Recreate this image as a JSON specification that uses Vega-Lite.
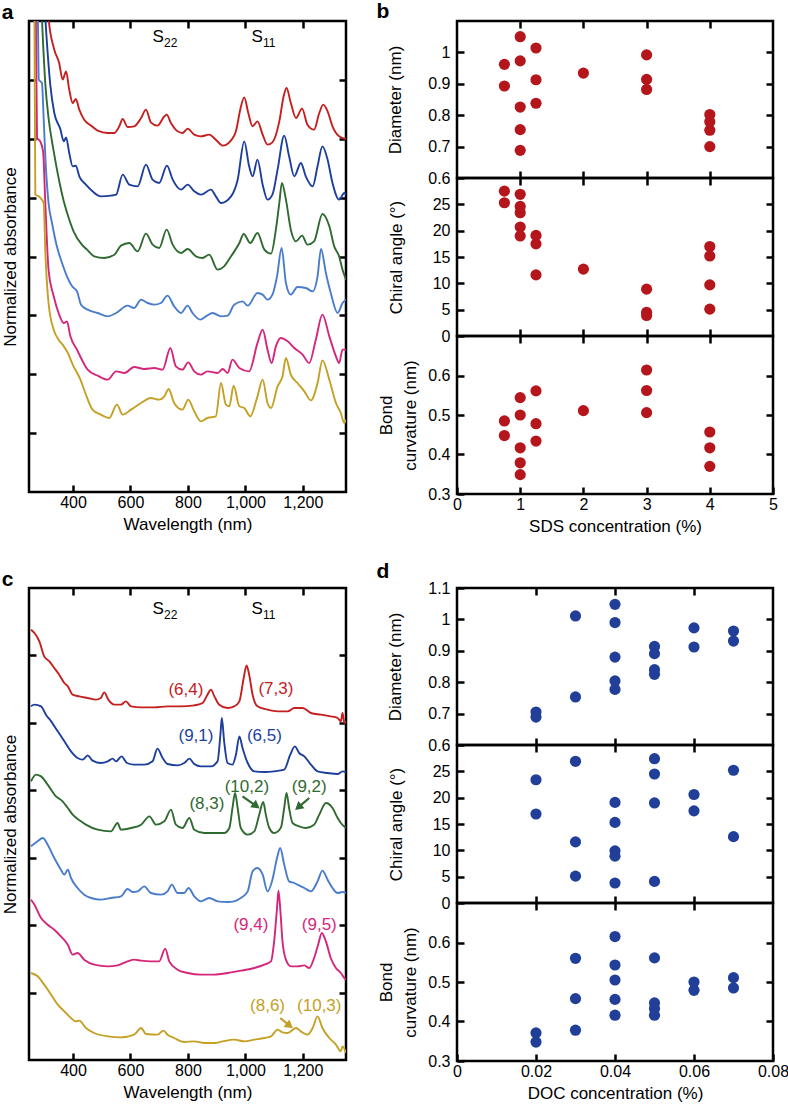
{
"$schema": "https://vega.github.io/schema/vega-lite/v6.json",
"padding": {"left": 0, "top": 0, "right": 2, "bottom": 1},
"background": "white",
"config": {
  "font": "Liberation Sans",
  "view": {"stroke": "#000", "strokeWidth": 2.5},
  "axis": {"domain": false, "grid": false, "tickSize": -7, "tickWidth": 2.5, "tickColor": "#000", "labelFontSize": 16, "labelColor": "#000", "titleFontSize": 17, "titleFontWeight": "normal", "titleColor": "#000", "labelFlush": false, "labelOverlap": false, "labelFont": "Liberation Sans", "titleFont": "Liberation Sans", "format": "~g", "titleLineHeight": 24},
  "axisX": {"labelPadding": 9, "titlePadding": 6},
  "axisY": {"labelPadding": 14, "titlePadding": 23},
  "title": {"fontSize": 21, "fontWeight": "bold", "anchor": "start", "font": "Liberation Sans", "color": "#000", "baseline": "alphabetic", "offset": -3}
},
"datasets": {
"specA": [
{"s":"1","nm":300,"v":17.67},{"s":"1","nm":315,"v":14.22},{"s":"1","nm":335,"v":13.27},{"s":"1","nm":352,"v":12.87},{"s":"1","nm":364,"v":12.37},{"s":"1","nm":376,"v":12.62},{"s":"1","nm":387,"v":12.07},{"s":"1","nm":399,"v":11.67},{"s":"1","nm":410,"v":11.79},{"s":"1","nm":422,"v":11.47},{"s":"1","nm":439,"v":11.17},{"s":"1","nm":463,"v":10.99},{"s":"1","nm":486,"v":10.84},{"s":"1","nm":521,"v":10.77},{"s":"1","nm":544,"v":10.77},{"s":"1","nm":561,"v":10.97},{"s":"1","nm":573,"v":11.19},{"s":"1","nm":590,"v":10.95},{"s":"1","nm":613,"v":10.97},{"s":"1","nm":637,"v":11.22},{"s":"1","nm":654,"v":11.47},{"s":"1","nm":671,"v":11.09},{"s":"1","nm":694,"v":10.99},{"s":"1","nm":718,"v":11.27},{"s":"1","nm":726,"v":11.32},{"s":"1","nm":741,"v":11.07},{"s":"1","nm":764,"v":10.82},{"s":"1","nm":781,"v":10.77},{"s":"1","nm":799,"v":10.90},{"s":"1","nm":822,"v":10.72},{"s":"1","nm":845,"v":10.67},{"s":"1","nm":874,"v":10.72},{"s":"1","nm":897,"v":10.57},{"s":"1","nm":921,"v":10.39},{"s":"1","nm":950,"v":10.55},{"s":"1","nm":967,"v":10.82},{"s":"1","nm":982,"v":11.47},{"s":"1","nm":996,"v":11.84},{"s":"1","nm":1010,"v":11.37},{"s":"1","nm":1025,"v":10.97},{"s":"1","nm":1042,"v":11.12},{"s":"1","nm":1060,"v":10.72},{"s":"1","nm":1077,"v":10.42},{"s":"1","nm":1094,"v":10.49},{"s":"1","nm":1118,"v":11.12},{"s":"1","nm":1133,"v":11.87},{"s":"1","nm":1143,"v":12.12},{"s":"1","nm":1158,"v":11.67},{"s":"1","nm":1176,"v":11.22},{"s":"1","nm":1197,"v":11.50},{"s":"1","nm":1216,"v":11.02},{"s":"1","nm":1239,"v":10.87},{"s":"1","nm":1257,"v":11.37},{"s":"1","nm":1271,"v":11.62},{"s":"1","nm":1286,"v":11.42},{"s":"1","nm":1303,"v":10.97},{"s":"1","nm":1326,"v":10.67},{"s":"1","nm":1350,"v":10.59},
{"s":"2","nm":289,"v":17.67},{"s":"2","nm":304,"v":14.22},{"s":"2","nm":312,"v":13.17},{"s":"2","nm":321,"v":12.22},{"s":"2","nm":335,"v":11.37},{"s":"2","nm":356,"v":10.89},{"s":"2","nm":368,"v":10.52},{"s":"2","nm":376,"v":10.64},{"s":"2","nm":387,"v":10.17},{"s":"2","nm":399,"v":9.77},{"s":"2","nm":410,"v":9.79},{"s":"2","nm":422,"v":9.47},{"s":"2","nm":445,"v":9.22},{"s":"2","nm":468,"v":9.02},{"s":"2","nm":497,"v":8.87},{"s":"2","nm":532,"v":8.89},{"s":"2","nm":550,"v":8.92},{"s":"2","nm":573,"v":9.52},{"s":"2","nm":596,"v":9.22},{"s":"2","nm":625,"v":9.17},{"s":"2","nm":654,"v":9.82},{"s":"2","nm":677,"v":9.37},{"s":"2","nm":700,"v":9.27},{"s":"2","nm":727,"v":9.79},{"s":"2","nm":747,"v":9.37},{"s":"2","nm":776,"v":9.07},{"s":"2","nm":799,"v":9.22},{"s":"2","nm":822,"v":9.02},{"s":"2","nm":845,"v":8.92},{"s":"2","nm":880,"v":9.07},{"s":"2","nm":897,"v":8.87},{"s":"2","nm":915,"v":8.67},{"s":"2","nm":950,"v":8.87},{"s":"2","nm":973,"v":9.37},{"s":"2","nm":996,"v":10.52},{"s":"2","nm":1013,"v":9.77},{"s":"2","nm":1025,"v":9.47},{"s":"2","nm":1042,"v":9.97},{"s":"2","nm":1060,"v":9.22},{"s":"2","nm":1077,"v":8.77},{"s":"2","nm":1094,"v":8.92},{"s":"2","nm":1112,"v":9.67},{"s":"2","nm":1135,"v":10.69},{"s":"2","nm":1152,"v":10.07},{"s":"2","nm":1170,"v":9.47},{"s":"2","nm":1193,"v":9.87},{"s":"2","nm":1210,"v":9.47},{"s":"2","nm":1234,"v":9.17},{"s":"2","nm":1251,"v":9.77},{"s":"2","nm":1268,"v":10.37},{"s":"2","nm":1286,"v":9.97},{"s":"2","nm":1303,"v":9.27},{"s":"2","nm":1326,"v":8.77},{"s":"2","nm":1344,"v":8.97},{"s":"2","nm":1350,"v":8.92},
{"s":"3","nm":277,"v":17.67},{"s":"3","nm":292,"v":14.22},{"s":"3","nm":304,"v":12.22},{"s":"3","nm":315,"v":11.22},{"s":"3","nm":333,"v":10.22},{"s":"3","nm":350,"v":9.42},{"s":"3","nm":368,"v":8.72},{"s":"3","nm":391,"v":8.07},{"s":"3","nm":402,"v":7.82},{"s":"3","nm":431,"v":7.42},{"s":"3","nm":449,"v":7.27},{"s":"3","nm":474,"v":7.07},{"s":"3","nm":509,"v":7.02},{"s":"3","nm":544,"v":7.12},{"s":"3","nm":567,"v":7.39},{"s":"3","nm":596,"v":7.47},{"s":"3","nm":625,"v":7.22},{"s":"3","nm":654,"v":7.75},{"s":"3","nm":677,"v":7.42},{"s":"3","nm":700,"v":7.32},{"s":"3","nm":726,"v":7.87},{"s":"3","nm":747,"v":7.42},{"s":"3","nm":776,"v":7.17},{"s":"3","nm":799,"v":7.29},{"s":"3","nm":828,"v":7.07},{"s":"3","nm":851,"v":7.02},{"s":"3","nm":874,"v":7.12},{"s":"3","nm":903,"v":6.67},{"s":"3","nm":926,"v":6.77},{"s":"3","nm":950,"v":7.07},{"s":"3","nm":979,"v":7.47},{"s":"3","nm":994,"v":7.74},{"s":"3","nm":1017,"v":7.47},{"s":"3","nm":1042,"v":7.77},{"s":"3","nm":1066,"v":7.27},{"s":"3","nm":1089,"v":7.15},{"s":"3","nm":1106,"v":7.87},{"s":"3","nm":1118,"v":8.67},{"s":"3","nm":1127,"v":9.27},{"s":"3","nm":1141,"v":8.77},{"s":"3","nm":1158,"v":7.87},{"s":"3","nm":1176,"v":7.52},{"s":"3","nm":1197,"v":7.69},{"s":"3","nm":1216,"v":7.42},{"s":"3","nm":1239,"v":7.52},{"s":"3","nm":1268,"v":8.34},{"s":"3","nm":1292,"v":7.97},{"s":"3","nm":1309,"v":7.37},{"s":"3","nm":1326,"v":7.07},{"s":"3","nm":1338,"v":6.67},{"s":"3","nm":1350,"v":6.37},
{"s":"4","nm":266,"v":17.67},{"s":"4","nm":278,"v":14.22},{"s":"4","nm":281,"v":12.37},{"s":"4","nm":292,"v":12.27},{"s":"4","nm":298,"v":11.22},{"s":"4","nm":304,"v":10.02},{"s":"4","nm":315,"v":8.67},{"s":"4","nm":327,"v":8.07},{"s":"4","nm":344,"v":7.37},{"s":"4","nm":362,"v":6.87},{"s":"4","nm":379,"v":6.47},{"s":"4","nm":397,"v":6.17},{"s":"4","nm":414,"v":6.02},{"s":"4","nm":428,"v":5.62},{"s":"4","nm":451,"v":5.47},{"s":"4","nm":486,"v":5.37},{"s":"4","nm":521,"v":5.27},{"s":"4","nm":550,"v":5.37},{"s":"4","nm":590,"v":5.59},{"s":"4","nm":613,"v":5.52},{"s":"4","nm":637,"v":5.77},{"s":"4","nm":660,"v":5.67},{"s":"4","nm":683,"v":5.62},{"s":"4","nm":706,"v":5.67},{"s":"4","nm":729,"v":5.89},{"s":"4","nm":752,"v":5.57},{"s":"4","nm":776,"v":5.37},{"s":"4","nm":799,"v":5.59},{"s":"4","nm":816,"v":5.37},{"s":"4","nm":843,"v":5.17},{"s":"4","nm":863,"v":5.27},{"s":"4","nm":886,"v":5.37},{"s":"4","nm":915,"v":5.27},{"s":"4","nm":938,"v":5.29},{"s":"4","nm":961,"v":5.62},{"s":"4","nm":990,"v":5.72},{"s":"4","nm":1008,"v":5.59},{"s":"4","nm":1042,"v":5.97},{"s":"4","nm":1060,"v":5.92},{"s":"4","nm":1077,"v":5.77},{"s":"4","nm":1094,"v":5.92},{"s":"4","nm":1110,"v":6.47},{"s":"4","nm":1126,"v":7.32},{"s":"4","nm":1141,"v":6.27},{"s":"4","nm":1158,"v":5.92},{"s":"4","nm":1181,"v":6.15},{"s":"4","nm":1210,"v":6.12},{"s":"4","nm":1234,"v":6.02},{"s":"4","nm":1251,"v":6.47},{"s":"4","nm":1263,"v":7.29},{"s":"4","nm":1280,"v":6.57},{"s":"4","nm":1297,"v":5.97},{"s":"4","nm":1321,"v":5.37},{"s":"4","nm":1338,"v":5.67},{"s":"4","nm":1350,"v":5.77},
{"s":"5","nm":260,"v":17.67},{"s":"5","nm":271,"v":14.22},{"s":"5","nm":275,"v":10.62},{"s":"5","nm":286,"v":10.52},{"s":"5","nm":296,"v":10.22},{"s":"5","nm":304,"v":8.62},{"s":"5","nm":315,"v":6.67},{"s":"5","nm":333,"v":5.87},{"s":"5","nm":350,"v":5.37},{"s":"5","nm":368,"v":5.07},{"s":"5","nm":379,"v":5.12},{"s":"5","nm":391,"v":4.67},{"s":"5","nm":414,"v":4.27},{"s":"5","nm":437,"v":3.87},{"s":"5","nm":451,"v":3.67},{"s":"5","nm":486,"v":3.49},{"s":"5","nm":521,"v":3.37},{"s":"5","nm":550,"v":3.62},{"s":"5","nm":579,"v":3.57},{"s":"5","nm":613,"v":3.75},{"s":"5","nm":648,"v":3.69},{"s":"5","nm":683,"v":3.72},{"s":"5","nm":712,"v":3.67},{"s":"5","nm":739,"v":4.32},{"s":"5","nm":758,"v":3.77},{"s":"5","nm":781,"v":3.67},{"s":"5","nm":801,"v":3.89},{"s":"5","nm":822,"v":3.62},{"s":"5","nm":845,"v":3.52},{"s":"5","nm":868,"v":3.62},{"s":"5","nm":903,"v":3.57},{"s":"5","nm":921,"v":3.69},{"s":"5","nm":938,"v":3.57},{"s":"5","nm":955,"v":3.97},{"s":"5","nm":979,"v":3.72},{"s":"5","nm":1013,"v":3.62},{"s":"5","nm":1042,"v":4.47},{"s":"5","nm":1060,"v":4.87},{"s":"5","nm":1077,"v":4.27},{"s":"5","nm":1091,"v":3.87},{"s":"5","nm":1106,"v":4.37},{"s":"5","nm":1123,"v":4.62},{"s":"5","nm":1147,"v":4.52},{"s":"5","nm":1170,"v":4.32},{"s":"5","nm":1199,"v":4.12},{"s":"5","nm":1222,"v":3.87},{"s":"5","nm":1245,"v":4.57},{"s":"5","nm":1268,"v":5.32},{"s":"5","nm":1292,"v":4.67},{"s":"5","nm":1315,"v":4.07},{"s":"5","nm":1326,"v":3.87},{"s":"5","nm":1338,"v":4.27},{"s":"5","nm":1350,"v":4.27},
{"s":"6","nm":254,"v":17.67},{"s":"6","nm":266,"v":14.22},{"s":"6","nm":269,"v":8.92},{"s":"6","nm":281,"v":8.87},{"s":"6","nm":292,"v":8.77},{"s":"6","nm":298,"v":8.67},{"s":"6","nm":304,"v":7.17},{"s":"6","nm":315,"v":5.67},{"s":"6","nm":333,"v":4.87},{"s":"6","nm":350,"v":4.57},{"s":"6","nm":368,"v":4.37},{"s":"6","nm":379,"v":4.22},{"s":"6","nm":402,"v":3.77},{"s":"6","nm":426,"v":3.37},{"s":"6","nm":443,"v":2.97},{"s":"6","nm":468,"v":2.47},{"s":"6","nm":497,"v":2.32},{"s":"6","nm":526,"v":2.22},{"s":"6","nm":553,"v":2.62},{"s":"6","nm":573,"v":2.32},{"s":"6","nm":602,"v":2.47},{"s":"6","nm":637,"v":2.67},{"s":"6","nm":671,"v":2.82},{"s":"6","nm":700,"v":2.77},{"s":"6","nm":718,"v":2.87},{"s":"6","nm":733,"v":3.09},{"s":"6","nm":752,"v":2.67},{"s":"6","nm":781,"v":2.47},{"s":"6","nm":801,"v":2.77},{"s":"6","nm":822,"v":2.42},{"s":"6","nm":845,"v":2.12},{"s":"6","nm":868,"v":2.22},{"s":"6","nm":897,"v":2.27},{"s":"6","nm":915,"v":3.27},{"s":"6","nm":932,"v":2.62},{"s":"6","nm":944,"v":2.57},{"s":"6","nm":959,"v":3.19},{"s":"6","nm":979,"v":2.57},{"s":"6","nm":996,"v":2.52},{"s":"6","nm":1017,"v":2.27},{"s":"6","nm":1042,"v":2.87},{"s":"6","nm":1060,"v":3.37},{"s":"6","nm":1077,"v":2.67},{"s":"6","nm":1089,"v":2.52},{"s":"6","nm":1112,"v":3.17},{"s":"6","nm":1129,"v":3.47},{"s":"6","nm":1141,"v":4.02},{"s":"6","nm":1158,"v":3.52},{"s":"6","nm":1181,"v":3.27},{"s":"6","nm":1205,"v":3.02},{"s":"6","nm":1228,"v":2.75},{"s":"6","nm":1251,"v":3.27},{"s":"6","nm":1268,"v":3.95},{"s":"6","nm":1292,"v":3.37},{"s":"6","nm":1315,"v":2.67},{"s":"6","nm":1332,"v":2.37},{"s":"6","nm":1344,"v":2.07},{"s":"6","nm":1350,"v":2.17}
],
"specC": [
{"s":"1","nm":254,"v":12.91},{"s":"1","nm":266,"v":12.81},{"s":"1","nm":283,"v":12.56},{"s":"1","nm":300,"v":12.11},{"s":"1","nm":318,"v":11.96},{"s":"1","nm":335,"v":11.76},{"s":"1","nm":352,"v":11.56},{"s":"1","nm":370,"v":11.31},{"s":"1","nm":382,"v":11.21},{"s":"1","nm":399,"v":10.96},{"s":"1","nm":422,"v":10.91},{"s":"1","nm":451,"v":10.86},{"s":"1","nm":480,"v":10.81},{"s":"1","nm":497,"v":10.86},{"s":"1","nm":509,"v":11.03},{"s":"1","nm":523,"v":10.81},{"s":"1","nm":544,"v":10.66},{"s":"1","nm":567,"v":10.66},{"s":"1","nm":584,"v":10.76},{"s":"1","nm":602,"v":10.61},{"s":"1","nm":637,"v":10.58},{"s":"1","nm":683,"v":10.58},{"s":"1","nm":729,"v":10.61},{"s":"1","nm":776,"v":10.61},{"s":"1","nm":822,"v":10.64},{"s":"1","nm":851,"v":10.71},{"s":"1","nm":868,"v":10.96},{"s":"1","nm":880,"v":11.11},{"s":"1","nm":892,"v":10.91},{"s":"1","nm":909,"v":10.66},{"s":"1","nm":938,"v":10.56},{"s":"1","nm":961,"v":10.61},{"s":"1","nm":979,"v":10.76},{"s":"1","nm":994,"v":11.46},{"s":"1","nm":1004,"v":11.84},{"s":"1","nm":1013,"v":11.56},{"s":"1","nm":1025,"v":10.96},{"s":"1","nm":1042,"v":10.61},{"s":"1","nm":1077,"v":10.51},{"s":"1","nm":1112,"v":10.46},{"s":"1","nm":1147,"v":10.46},{"s":"1","nm":1170,"v":10.56},{"s":"1","nm":1199,"v":10.56},{"s":"1","nm":1228,"v":10.41},{"s":"1","nm":1263,"v":10.36},{"s":"1","nm":1297,"v":10.31},{"s":"1","nm":1321,"v":10.26},{"s":"1","nm":1332,"v":10.16},{"s":"1","nm":1338,"v":10.41},{"s":"1","nm":1344,"v":10.11},{"s":"1","nm":1350,"v":10.16},
{"s":"2","nm":254,"v":10.61},{"s":"2","nm":266,"v":10.66},{"s":"2","nm":289,"v":10.61},{"s":"2","nm":306,"v":10.36},{"s":"2","nm":324,"v":10.16},{"s":"2","nm":347,"v":9.86},{"s":"2","nm":370,"v":9.56},{"s":"2","nm":393,"v":9.26},{"s":"2","nm":416,"v":9.06},{"s":"2","nm":434,"v":9.01},{"s":"2","nm":451,"v":9.14},{"s":"2","nm":468,"v":8.98},{"s":"2","nm":497,"v":8.91},{"s":"2","nm":521,"v":8.96},{"s":"2","nm":538,"v":9.04},{"s":"2","nm":550,"v":8.96},{"s":"2","nm":569,"v":9.11},{"s":"2","nm":588,"v":8.91},{"s":"2","nm":613,"v":8.86},{"s":"2","nm":648,"v":8.86},{"s":"2","nm":677,"v":8.96},{"s":"2","nm":694,"v":9.34},{"s":"2","nm":712,"v":9.06},{"s":"2","nm":729,"v":8.88},{"s":"2","nm":764,"v":8.84},{"s":"2","nm":787,"v":8.91},{"s":"2","nm":805,"v":9.04},{"s":"2","nm":822,"v":8.88},{"s":"2","nm":845,"v":8.81},{"s":"2","nm":880,"v":8.81},{"s":"2","nm":903,"v":8.96},{"s":"2","nm":913,"v":9.76},{"s":"2","nm":918,"v":10.26},{"s":"2","nm":926,"v":9.56},{"s":"2","nm":938,"v":8.91},{"s":"2","nm":955,"v":8.86},{"s":"2","nm":967,"v":9.16},{"s":"2","nm":979,"v":9.71},{"s":"2","nm":990,"v":9.36},{"s":"2","nm":1008,"v":8.91},{"s":"2","nm":1031,"v":8.66},{"s":"2","nm":1066,"v":8.64},{"s":"2","nm":1100,"v":8.66},{"s":"2","nm":1135,"v":8.71},{"s":"2","nm":1156,"v":9.16},{"s":"2","nm":1172,"v":9.41},{"s":"2","nm":1187,"v":9.21},{"s":"2","nm":1205,"v":9.11},{"s":"2","nm":1228,"v":8.86},{"s":"2","nm":1251,"v":8.66},{"s":"2","nm":1286,"v":8.61},{"s":"2","nm":1321,"v":8.58},{"s":"2","nm":1338,"v":8.66},{"s":"2","nm":1350,"v":8.64},
{"s":"3","nm":254,"v":8.36},{"s":"3","nm":271,"v":8.56},{"s":"3","nm":289,"v":8.51},{"s":"3","nm":312,"v":8.26},{"s":"3","nm":341,"v":7.91},{"s":"3","nm":364,"v":7.76},{"s":"3","nm":382,"v":7.56},{"s":"3","nm":399,"v":7.36},{"s":"3","nm":428,"v":7.16},{"s":"3","nm":445,"v":7.06},{"s":"3","nm":486,"v":6.91},{"s":"3","nm":532,"v":6.86},{"s":"3","nm":555,"v":7.11},{"s":"3","nm":567,"v":6.91},{"s":"3","nm":602,"v":6.96},{"s":"3","nm":637,"v":7.06},{"s":"3","nm":666,"v":7.31},{"s":"3","nm":689,"v":7.06},{"s":"3","nm":718,"v":7.16},{"s":"3","nm":741,"v":7.51},{"s":"3","nm":758,"v":7.06},{"s":"3","nm":781,"v":6.96},{"s":"3","nm":805,"v":7.26},{"s":"3","nm":822,"v":6.91},{"s":"3","nm":857,"v":6.81},{"s":"3","nm":892,"v":6.81},{"s":"3","nm":926,"v":6.81},{"s":"3","nm":944,"v":6.96},{"s":"3","nm":955,"v":7.56},{"s":"3","nm":964,"v":8.01},{"s":"3","nm":973,"v":7.56},{"s":"3","nm":984,"v":6.96},{"s":"3","nm":1008,"v":6.76},{"s":"3","nm":1031,"v":6.86},{"s":"3","nm":1048,"v":7.36},{"s":"3","nm":1062,"v":7.74},{"s":"3","nm":1071,"v":7.36},{"s":"3","nm":1083,"v":6.96},{"s":"3","nm":1100,"v":6.81},{"s":"3","nm":1123,"v":6.96},{"s":"3","nm":1135,"v":7.56},{"s":"3","nm":1143,"v":8.01},{"s":"3","nm":1152,"v":7.56},{"s":"3","nm":1164,"v":7.11},{"s":"3","nm":1187,"v":7.01},{"s":"3","nm":1210,"v":6.96},{"s":"3","nm":1239,"v":7.06},{"s":"3","nm":1257,"v":7.36},{"s":"3","nm":1280,"v":7.71},{"s":"3","nm":1303,"v":7.56},{"s":"3","nm":1321,"v":7.26},{"s":"3","nm":1332,"v":7.11},{"s":"3","nm":1350,"v":6.96},
{"s":"4","nm":254,"v":6.41},{"s":"4","nm":277,"v":6.56},{"s":"4","nm":295,"v":6.66},{"s":"4","nm":312,"v":6.46},{"s":"4","nm":335,"v":6.06},{"s":"4","nm":358,"v":5.71},{"s":"4","nm":370,"v":5.56},{"s":"4","nm":382,"v":5.71},{"s":"4","nm":393,"v":5.46},{"s":"4","nm":416,"v":5.16},{"s":"4","nm":439,"v":4.96},{"s":"4","nm":463,"v":4.86},{"s":"4","nm":497,"v":4.81},{"s":"4","nm":532,"v":4.86},{"s":"4","nm":567,"v":4.91},{"s":"4","nm":590,"v":5.13},{"s":"4","nm":608,"v":5.04},{"s":"4","nm":625,"v":5.06},{"s":"4","nm":648,"v":5.21},{"s":"4","nm":671,"v":5.01},{"s":"4","nm":706,"v":4.96},{"s":"4","nm":729,"v":5.06},{"s":"4","nm":744,"v":5.26},{"s":"4","nm":764,"v":5.01},{"s":"4","nm":787,"v":5.01},{"s":"4","nm":802,"v":5.16},{"s":"4","nm":822,"v":4.91},{"s":"4","nm":845,"v":4.76},{"s":"4","nm":874,"v":4.86},{"s":"4","nm":903,"v":4.76},{"s":"4","nm":938,"v":4.74},{"s":"4","nm":961,"v":4.76},{"s":"4","nm":984,"v":4.86},{"s":"4","nm":1008,"v":5.06},{"s":"4","nm":1025,"v":5.66},{"s":"4","nm":1042,"v":5.76},{"s":"4","nm":1060,"v":5.56},{"s":"4","nm":1077,"v":5.06},{"s":"4","nm":1094,"v":5.41},{"s":"4","nm":1110,"v":6.06},{"s":"4","nm":1121,"v":6.36},{"s":"4","nm":1135,"v":5.86},{"s":"4","nm":1152,"v":5.36},{"s":"4","nm":1170,"v":5.31},{"s":"4","nm":1181,"v":5.26},{"s":"4","nm":1205,"v":5.16},{"s":"4","nm":1228,"v":5.06},{"s":"4","nm":1251,"v":5.36},{"s":"4","nm":1268,"v":5.68},{"s":"4","nm":1286,"v":5.41},{"s":"4","nm":1303,"v":5.16},{"s":"4","nm":1321,"v":5.01},{"s":"4","nm":1338,"v":5.04},{"s":"4","nm":1350,"v":5.01},
{"s":"5","nm":254,"v":4.81},{"s":"5","nm":266,"v":4.66},{"s":"5","nm":289,"v":4.26},{"s":"5","nm":312,"v":4.06},{"s":"5","nm":335,"v":3.91},{"s":"5","nm":358,"v":3.71},{"s":"5","nm":382,"v":3.46},{"s":"5","nm":399,"v":3.16},{"s":"5","nm":416,"v":3.21},{"s":"5","nm":439,"v":3.01},{"s":"5","nm":474,"v":2.86},{"s":"5","nm":521,"v":2.81},{"s":"5","nm":555,"v":2.84},{"s":"5","nm":590,"v":2.96},{"s":"5","nm":613,"v":3.01},{"s":"5","nm":637,"v":2.98},{"s":"5","nm":671,"v":2.96},{"s":"5","nm":700,"v":2.96},{"s":"5","nm":721,"v":3.34},{"s":"5","nm":735,"v":2.96},{"s":"5","nm":764,"v":2.71},{"s":"5","nm":799,"v":2.61},{"s":"5","nm":845,"v":2.56},{"s":"5","nm":892,"v":2.56},{"s":"5","nm":938,"v":2.61},{"s":"5","nm":984,"v":2.68},{"s":"5","nm":1031,"v":2.76},{"s":"5","nm":1066,"v":2.86},{"s":"5","nm":1089,"v":2.96},{"s":"5","nm":1100,"v":3.56},{"s":"5","nm":1110,"v":4.56},{"s":"5","nm":1115,"v":5.08},{"s":"5","nm":1121,"v":4.56},{"s":"5","nm":1129,"v":3.56},{"s":"5","nm":1141,"v":3.01},{"s":"5","nm":1158,"v":2.81},{"s":"5","nm":1181,"v":2.81},{"s":"5","nm":1205,"v":2.84},{"s":"5","nm":1222,"v":2.76},{"s":"5","nm":1239,"v":3.06},{"s":"5","nm":1253,"v":3.46},{"s":"5","nm":1266,"v":3.81},{"s":"5","nm":1280,"v":3.56},{"s":"5","nm":1297,"v":3.06},{"s":"5","nm":1315,"v":2.76},{"s":"5","nm":1332,"v":2.61},{"s":"5","nm":1344,"v":2.46},{"s":"5","nm":1350,"v":2.41},
{"s":"6","nm":254,"v":2.61},{"s":"6","nm":277,"v":2.51},{"s":"6","nm":300,"v":2.26},{"s":"6","nm":324,"v":1.96},{"s":"6","nm":347,"v":1.66},{"s":"6","nm":370,"v":1.46},{"s":"6","nm":393,"v":1.26},{"s":"6","nm":410,"v":1.16},{"s":"6","nm":422,"v":1.18},{"s":"6","nm":445,"v":0.96},{"s":"6","nm":474,"v":0.81},{"s":"6","nm":521,"v":0.71},{"s":"6","nm":567,"v":0.68},{"s":"6","nm":613,"v":0.76},{"s":"6","nm":637,"v":0.96},{"s":"6","nm":654,"v":0.78},{"s":"6","nm":694,"v":0.76},{"s":"6","nm":715,"v":0.88},{"s":"6","nm":729,"v":0.76},{"s":"6","nm":752,"v":0.66},{"s":"6","nm":787,"v":0.54},{"s":"6","nm":822,"v":0.56},{"s":"6","nm":857,"v":0.51},{"s":"6","nm":892,"v":0.51},{"s":"6","nm":921,"v":0.56},{"s":"6","nm":961,"v":0.61},{"s":"6","nm":996,"v":0.56},{"s":"6","nm":1031,"v":0.61},{"s":"6","nm":1066,"v":0.66},{"s":"6","nm":1089,"v":0.71},{"s":"6","nm":1112,"v":0.91},{"s":"6","nm":1129,"v":0.83},{"s":"6","nm":1147,"v":0.81},{"s":"6","nm":1176,"v":0.96},{"s":"6","nm":1193,"v":0.86},{"s":"6","nm":1216,"v":0.76},{"s":"6","nm":1234,"v":0.96},{"s":"6","nm":1251,"v":1.31},{"s":"6","nm":1268,"v":0.96},{"s":"6","nm":1292,"v":0.66},{"s":"6","nm":1315,"v":0.46},{"s":"6","nm":1332,"v":0.26},{"s":"6","nm":1338,"v":0.41},{"s":"6","nm":1350,"v":0.21}
],
"annC": [
{"s":"1","lab":"(6,4)","nm":793,"v":11.11},{"s":"1","lab":"(7,3)","nm":1106,"v":11.13},
{"s":"2","lab":"(9,1)","nm":828,"v":9.71},{"s":"2","lab":"(6,5)","nm":1066,"v":9.73},
{"s":"3","lab":"(10,2)","nm":1005,"v":8.18},{"s":"3","lab":"(9,2)","nm":1222,"v":8.18},{"s":"3","lab":"(8,3)","nm":866,"v":7.69},
{"s":"5","lab":"(9,4)","nm":1019,"v":4.06},{"s":"5","lab":"(9,5)","nm":1257,"v":4.06},
{"s":"6","lab":"(8,6)","nm":1077,"v":1.61},{"s":"6","lab":"(10,3)","nm":1257,"v":1.61}
],
"arrowsC": [
{"s":"3","lab":"(10,2)","nm":990,"v":7.91,"nm2":1038,"v2":7.62},
{"s":"3","lab":"(9,2)","nm":1222,"v":7.86,"nm2":1184,"v2":7.58},
{"s":"6","lab":"(8,6)","nm":1121,"v":1.26,"nm2":1154,"v2":1.03}
],
"ptsB": [
{"p":"d","c":0.75,"val":0.962},{"p":"d","c":0.75,"val":0.893},{"p":"d","c":1,"val":1.05},{"p":"d","c":1,"val":0.973},{"p":"d","c":1,"val":0.826},{"p":"d","c":1,"val":0.754},{"p":"d","c":1,"val":0.688},{"p":"d","c":1.25,"val":1.014},{"p":"d","c":1.25,"val":0.913},{"p":"d","c":1.25,"val":0.838},{"p":"d","c":2,"val":0.934},{"p":"d","c":3,"val":0.992},{"p":"d","c":3,"val":0.914},{"p":"d","c":3,"val":0.882},{"p":"d","c":4,"val":0.802},{"p":"d","c":4,"val":0.779},{"p":"d","c":4,"val":0.752},{"p":"d","c":4,"val":0.70},
{"p":"a","c":0.75,"val":27.5},{"p":"a","c":0.75,"val":25.3},{"p":"a","c":1,"val":26.9},{"p":"a","c":1,"val":24.6},{"p":"a","c":1,"val":23.4},{"p":"a","c":1,"val":20.7},{"p":"a","c":1,"val":19.0},{"p":"a","c":1.25,"val":19.1},{"p":"a","c":1.25,"val":17.5},{"p":"a","c":1.25,"val":11.6},{"p":"a","c":2,"val":12.7},{"p":"a","c":3,"val":8.9},{"p":"a","c":3,"val":4.5},{"p":"a","c":3,"val":3.9},{"p":"a","c":4,"val":17.0},{"p":"a","c":4,"val":15.2},{"p":"a","c":4,"val":9.7},{"p":"a","c":4,"val":5.1},
{"p":"b","c":0.75,"val":0.485},{"p":"b","c":0.75,"val":0.448},{"p":"b","c":1,"val":0.544},{"p":"b","c":1,"val":0.5},{"p":"b","c":1,"val":0.417},{"p":"b","c":1,"val":0.379},{"p":"b","c":1,"val":0.349},{"p":"b","c":1.25,"val":0.561},{"p":"b","c":1.25,"val":0.478},{"p":"b","c":1.25,"val":0.434},{"p":"b","c":2,"val":0.511},{"p":"b","c":3,"val":0.614},{"p":"b","c":3,"val":0.562},{"p":"b","c":3,"val":0.506},{"p":"b","c":4,"val":0.457},{"p":"b","c":4,"val":0.417},{"p":"b","c":4,"val":0.370}
],
"ptsD": [
{"p":"d","c":0.02,"val":0.705},{"p":"d","c":0.02,"val":0.689},{"p":"d","c":0.03,"val":1.011},{"p":"d","c":0.03,"val":0.753},{"p":"d","c":0.04,"val":1.048},{"p":"d","c":0.04,"val":0.990},{"p":"d","c":0.04,"val":0.880},{"p":"d","c":0.04,"val":0.804},{"p":"d","c":0.04,"val":0.777},{"p":"d","c":0.05,"val":0.914},{"p":"d","c":0.05,"val":0.891},{"p":"d","c":0.05,"val":0.840},{"p":"d","c":0.05,"val":0.825},{"p":"d","c":0.06,"val":0.973},{"p":"d","c":0.06,"val":0.912},{"p":"d","c":0.07,"val":0.963},{"p":"d","c":0.07,"val":0.931},
{"p":"a","c":0.02,"val":23.4},{"p":"a","c":0.02,"val":16.9},{"p":"a","c":0.03,"val":26.9},{"p":"a","c":0.03,"val":11.6},{"p":"a","c":0.03,"val":5.1},{"p":"a","c":0.04,"val":19.1},{"p":"a","c":0.04,"val":15.3},{"p":"a","c":0.04,"val":9.9},{"p":"a","c":0.04,"val":8.9},{"p":"a","c":0.04,"val":3.8},{"p":"a","c":0.05,"val":27.4},{"p":"a","c":0.05,"val":24.5},{"p":"a","c":0.05,"val":19.0},{"p":"a","c":0.05,"val":4.1},{"p":"a","c":0.06,"val":20.6},{"p":"a","c":0.06,"val":17.5},{"p":"a","c":0.07,"val":25.2},{"p":"a","c":0.07,"val":12.6},
{"p":"b","c":0.02,"val":0.371},{"p":"b","c":0.02,"val":0.348},{"p":"b","c":0.03,"val":0.560},{"p":"b","c":0.03,"val":0.458},{"p":"b","c":0.03,"val":0.378},{"p":"b","c":0.04,"val":0.615},{"p":"b","c":0.04,"val":0.543},{"p":"b","c":0.04,"val":0.505},{"p":"b","c":0.04,"val":0.456},{"p":"b","c":0.04,"val":0.416},{"p":"b","c":0.05,"val":0.561},{"p":"b","c":0.05,"val":0.447},{"p":"b","c":0.05,"val":0.433},{"p":"b","c":0.05,"val":0.416},{"p":"b","c":0.06,"val":0.50},{"p":"b","c":0.06,"val":0.479},{"p":"b","c":0.07,"val":0.511},{"p":"b","c":0.07,"val":0.485}
]
},
"spacing": 24,
"vconcat": [
{
"spacing": 27,
"hconcat": [
{
 "width": 317, "height": 471,
 "title": {"text": "a"},
 "layer": [
  {"data": {"name": "specA"},
   "mark": {"type": "line", "strokeWidth": 1.9, "clip": true, "interpolate": "monotone"},
   "encoding": {
    "x": {"field": "nm", "type": "quantitative", "scale": {"domain": [247, 1350], "nice": false, "zero": false}, "axis": {"orient": "bottom", "values": [400, 600, 800, 1000, 1200], "format": ",d", "title": "Wavelength (nm)"}},
    "y": {"field": "v", "type": "quantitative", "scale": {"domain": [0, 14.13], "nice": false}, "axis": {"orient": "left", "values": [1.766, 3.533, 5.299, 7.065, 8.831, 10.598, 12.364], "labels": false, "title": "Normalized absorbance", "titlePadding": 8}},
    "color": {"field": "s", "type": "nominal", "scale": {"domain": ["1","2","3","4","5","6"], "range": ["#c4201f","#1d3f9c","#2f6a30","#4a7ccc","#d6267a","#c4a024"]}, "legend": null}
   }},
  {"data": {"values": [{"nm": 677, "v": 13.5, "sub": "22"}, {"nm": 1021, "v": 13.5, "sub": "11"}]},
   "layer": [
    {"mark": {"type": "text", "fontSize": 17, "align": "left", "baseline": "alphabetic", "color": "#000"},
     "encoding": {"x": {"field": "nm", "type": "quantitative", "scale": {"domain": [247, 1350], "nice": false, "zero": false}, "axis": null}, "y": {"field": "v", "type": "quantitative", "scale": {"domain": [0, 14.13], "nice": false}, "axis": null}, "text": {"value": "S"}}},
    {"mark": {"type": "text", "fontSize": 12, "align": "left", "baseline": "alphabetic", "dx": 11.5, "dy": 5, "color": "#000"},
     "encoding": {"x": {"field": "nm", "type": "quantitative", "scale": {"domain": [247, 1350], "nice": false, "zero": false}, "axis": null}, "y": {"field": "v", "type": "quantitative", "scale": {"domain": [0, 14.13], "nice": false}, "axis": null}, "text": {"field": "sub"}}}
   ]},
  {"data": {"values": [{"nm": 700, "v": 5}]},
   "mark": {"type": "point", "opacity": 0},
   "encoding": {
    "x": {"field": "nm", "type": "quantitative", "scale": {"domain": [247, 1350], "nice": false, "zero": false}, "axis": {"orient": "top", "values": [400, 600, 800, 1000, 1200], "labels": false, "title": null}},
    "y": {"field": "v", "type": "quantitative", "scale": {"domain": [0, 14.13], "nice": false}, "axis": {"orient": "right", "values": [1.766, 3.533, 5.299, 7.065, 8.831, 10.598, 12.364], "labels": false, "title": null}}
   }}
 ],
 "resolve": {"axis": {"x": "independent", "y": "independent"}}
},
{
 "title": {"text": "b"},
 "bounds": "flush",
 "spacing": 0,
 "vconcat": [
  {"width": 316, "height": 157,
   "data": {"name": "ptsB"}, "transform": [{"filter": "datum.p == 'd'"}],
   "layer": [
    {"mark": {"type": "circle", "size": 125, "opacity": 1, "color": "#b5161c"},
     "encoding": {"x": {"field": "c", "type": "quantitative", "scale": {"domain": [0, 5], "nice": false}, "axis": {"orient": "bottom", "values": [1,2,3,4], "labels": false, "title": null}},
                  "y": {"field": "val", "type": "quantitative", "scale": {"domain": [0.6, 1.1], "nice": false, "zero": false}, "axis": {"orient": "left", "values": [0.6,0.7,0.8,0.9,1], "title": "Diameter (nm)"}}}},
    {"mark": {"type": "point", "opacity": 0},
     "encoding": {"x": {"field": "c", "type": "quantitative", "scale": {"domain": [0, 5], "nice": false}, "axis": {"orient": "top", "values": [1,2,3,4], "labels": false, "title": null}},
                  "y": {"field": "val", "type": "quantitative", "scale": {"domain": [0.6, 1.1], "nice": false, "zero": false}, "axis": {"orient": "right", "values": [0.7,0.8,0.9,1], "labels": false, "title": null}}}}
   ],
   "resolve": {"axis": {"x": "independent", "y": "independent"}}},
  {"width": 316, "height": 158,
   "data": {"name": "ptsB"}, "transform": [{"filter": "datum.p == 'a'"}],
   "layer": [
    {"mark": {"type": "circle", "size": 125, "opacity": 1, "color": "#b5161c"},
     "encoding": {"x": {"field": "c", "type": "quantitative", "scale": {"domain": [0, 5], "nice": false}, "axis": {"orient": "bottom", "values": [1,2,3,4], "labels": false, "title": null}},
                  "y": {"field": "val", "type": "quantitative", "scale": {"domain": [0, 30], "nice": false}, "axis": {"orient": "left", "values": [0,5,10,15,20,25], "title": "Chiral angle (°)", "titlePadding": 27}}}},
    {"mark": {"type": "point", "opacity": 0},
     "encoding": {"x": {"field": "c", "type": "quantitative", "scale": {"domain": [0, 5], "nice": false}, "axis": {"orient": "top", "values": [1,2,3,4], "labels": false, "title": null}},
                  "y": {"field": "val", "type": "quantitative", "scale": {"domain": [0, 30], "nice": false}, "axis": {"orient": "right", "values": [5,10,15,20,25], "labels": false, "title": null}}}}
   ],
   "resolve": {"axis": {"x": "independent", "y": "independent"}}},
  {"width": 316, "height": 158,
   "data": {"name": "ptsB"}, "transform": [{"filter": "datum.p == 'b'"}],
   "layer": [
    {"mark": {"type": "circle", "size": 125, "opacity": 1, "color": "#b5161c"},
     "encoding": {"x": {"field": "c", "type": "quantitative", "scale": {"domain": [0, 5], "nice": false}, "axis": {"orient": "bottom", "values": [0,1,2,3,4,5], "title": "SDS concentration (%)"}},
                  "y": {"field": "val", "type": "quantitative", "scale": {"domain": [0.3, 0.7], "nice": false, "zero": false}, "axis": {"orient": "left", "values": [0.3,0.4,0.5,0.6], "title": ["Bond", "curvature (nm)"], "titlePadding": 8}}}},
    {"mark": {"type": "point", "opacity": 0},
     "encoding": {"x": {"field": "c", "type": "quantitative", "scale": {"domain": [0, 5], "nice": false}, "axis": {"orient": "top", "values": [1,2,3,4], "labels": false, "title": null}},
                  "y": {"field": "val", "type": "quantitative", "scale": {"domain": [0.3, 0.7], "nice": false, "zero": false}, "axis": {"orient": "right", "values": [0.4,0.5,0.6], "labels": false, "title": null}}}}
   ],
   "resolve": {"axis": {"x": "independent", "y": "independent"}}}
 ]
}
]
},
{
"spacing": 27,
"hconcat": [
{
 "width": 317, "height": 472,
 "title": {"text": "c"},
 "layer": [
  {"data": {"name": "specC"},
   "mark": {"type": "line", "strokeWidth": 1.9, "clip": true, "interpolate": "monotone"},
   "encoding": {
    "x": {"field": "nm", "type": "quantitative", "scale": {"domain": [247, 1350], "nice": false, "zero": false}, "axis": {"orient": "bottom", "values": [400, 600, 800, 1000, 1200], "format": ",d", "title": "Wavelength (nm)"}},
    "y": {"field": "v", "type": "quantitative", "scale": {"domain": [0, 14.16], "nice": false}, "axis": {"orient": "left", "values": [2.023, 4.046, 6.069, 8.091, 10.114, 12.137], "labels": false, "title": "Normalized absorbance", "titlePadding": 8}},
    "color": {"field": "s", "type": "nominal", "scale": {"domain": ["1","2","3","4","5","6"], "range": ["#c4201f","#1d3f9c","#2f6a30","#4a7ccc","#d6267a","#c4a024"]}, "legend": null}
   }},
  {"data": {"name": "annC"},
   "mark": {"type": "text", "fontSize": 17, "align": "center", "baseline": "middle"},
   "encoding": {
    "x": {"field": "nm", "type": "quantitative", "scale": {"domain": [247, 1350], "nice": false, "zero": false}, "axis": null},
    "y": {"field": "v", "type": "quantitative", "scale": {"domain": [0, 14.16], "nice": false}, "axis": null},
    "text": {"field": "lab"},
    "color": {"field": "s", "type": "nominal", "scale": {"domain": ["1","2","3","4","5","6"], "range": ["#c4201f","#1d3f9c","#2f6a30","#4a7ccc","#d6267a","#c4a024"]}, "legend": null}
   }},
  {"data": {"name": "arrowsC"},
   "mark": {"type": "rule", "strokeWidth": 2.2},
   "encoding": {
    "x": {"field": "nm", "type": "quantitative", "scale": {"domain": [247, 1350], "nice": false, "zero": false}, "axis": null},
    "y": {"field": "v", "type": "quantitative", "scale": {"domain": [0, 14.16], "nice": false}, "axis": null},
    "x2": {"field": "nm2"}, "y2": {"field": "v2"},
    "color": {"field": "s", "type": "nominal", "scale": {"domain": ["1","2","3","4","5","6"], "range": ["#c4201f","#1d3f9c","#2f6a30","#4a7ccc","#d6267a","#c4a024"]}, "legend": null}
   }},
  {"data": {"name": "arrowsC"},
   "transform": [{"filter": "datum.lab != '(9,2)'"}],
   "mark": {"type": "point", "shape": "triangle-up", "filled": true, "opacity": 1, "size": 90, "angle": 127},
   "encoding": {
    "x": {"field": "nm2", "type": "quantitative", "scale": {"domain": [247, 1350], "nice": false, "zero": false}, "axis": null},
    "y": {"field": "v2", "type": "quantitative", "scale": {"domain": [0, 14.16], "nice": false}, "axis": null},
    "color": {"field": "s", "type": "nominal", "scale": {"domain": ["1","2","3","4","5","6"], "range": ["#c4201f","#1d3f9c","#2f6a30","#4a7ccc","#d6267a","#c4a024"]}, "legend": null}
   }},
  {"data": {"name": "arrowsC"},
   "transform": [{"filter": "datum.lab == '(9,2)'"}],
   "mark": {"type": "point", "shape": "triangle-up", "filled": true, "opacity": 1, "size": 90, "angle": 229},
   "encoding": {
    "x": {"field": "nm2", "type": "quantitative", "scale": {"domain": [247, 1350], "nice": false, "zero": false}, "axis": null},
    "y": {"field": "v2", "type": "quantitative", "scale": {"domain": [0, 14.16], "nice": false}, "axis": null},
    "color": {"field": "s", "type": "nominal", "scale": {"domain": ["1","2","3","4","5","6"], "range": ["#c4201f","#1d3f9c","#2f6a30","#4a7ccc","#d6267a","#c4a024"]}, "legend": null}
   }},
  {"data": {"values": [{"nm": 677, "v": 13.38, "sub": "22"}, {"nm": 1021, "v": 13.38, "sub": "11"}]},
   "layer": [
    {"mark": {"type": "text", "fontSize": 17, "align": "left", "baseline": "alphabetic", "color": "#000"},
     "encoding": {"x": {"field": "nm", "type": "quantitative", "scale": {"domain": [247, 1350], "nice": false, "zero": false}, "axis": null}, "y": {"field": "v", "type": "quantitative", "scale": {"domain": [0, 14.16], "nice": false}, "axis": null}, "text": {"value": "S"}}},
    {"mark": {"type": "text", "fontSize": 12, "align": "left", "baseline": "alphabetic", "dx": 11.5, "dy": 5, "color": "#000"},
     "encoding": {"x": {"field": "nm", "type": "quantitative", "scale": {"domain": [247, 1350], "nice": false, "zero": false}, "axis": null}, "y": {"field": "v", "type": "quantitative", "scale": {"domain": [0, 14.16], "nice": false}, "axis": null}, "text": {"field": "sub"}}}
   ]},
  {"data": {"values": [{"nm": 700, "v": 5}]},
   "mark": {"type": "point", "opacity": 0},
   "encoding": {
    "x": {"field": "nm", "type": "quantitative", "scale": {"domain": [247, 1350], "nice": false, "zero": false}, "axis": {"orient": "top", "values": [400, 600, 800, 1000, 1200], "labels": false, "title": null}},
    "y": {"field": "v", "type": "quantitative", "scale": {"domain": [0, 14.16], "nice": false}, "axis": {"orient": "right", "values": [2.023, 4.046, 6.069, 8.091, 10.114, 12.137], "labels": false, "title": null}}
   }}
 ],
 "resolve": {"axis": {"x": "independent", "y": "independent"}}
},
{
 "title": {"text": "d"},
 "bounds": "flush",
 "spacing": 0,
 "vconcat": [
  {"width": 316, "height": 157,
   "data": {"name": "ptsD"}, "transform": [{"filter": "datum.p == 'd'"}],
   "layer": [
    {"mark": {"type": "circle", "size": 125, "opacity": 1, "color": "#213f98"},
     "encoding": {"x": {"field": "c", "type": "quantitative", "scale": {"domain": [0, 0.08], "nice": false}, "axis": {"orient": "bottom", "values": [0.02,0.04,0.06], "labels": false, "title": null}},
                  "y": {"field": "val", "type": "quantitative", "scale": {"domain": [0.6, 1.1], "nice": false, "zero": false}, "axis": {"orient": "left", "values": [0.6,0.7,0.8,0.9,1,1.1], "title": "Diameter (nm)"}}}},
    {"mark": {"type": "point", "opacity": 0},
     "encoding": {"x": {"field": "c", "type": "quantitative", "scale": {"domain": [0, 0.08], "nice": false}, "axis": {"orient": "top", "values": [0.02,0.04,0.06], "labels": false, "title": null}},
                  "y": {"field": "val", "type": "quantitative", "scale": {"domain": [0.6, 1.1], "nice": false, "zero": false}, "axis": {"orient": "right", "values": [0.7,0.8,0.9,1], "labels": false, "title": null}}}}
   ],
   "resolve": {"axis": {"x": "independent", "y": "independent"}}},
  {"width": 316, "height": 158,
   "data": {"name": "ptsD"}, "transform": [{"filter": "datum.p == 'a'"}],
   "layer": [
    {"mark": {"type": "circle", "size": 125, "opacity": 1, "color": "#213f98"},
     "encoding": {"x": {"field": "c", "type": "quantitative", "scale": {"domain": [0, 0.08], "nice": false}, "axis": {"orient": "bottom", "values": [0.02,0.04,0.06], "labels": false, "title": null}},
                  "y": {"field": "val", "type": "quantitative", "scale": {"domain": [0, 30], "nice": false}, "axis": {"orient": "left", "values": [0,5,10,15,20,25], "title": "Chiral angle (°)", "titlePadding": 27}}}},
    {"mark": {"type": "point", "opacity": 0},
     "encoding": {"x": {"field": "c", "type": "quantitative", "scale": {"domain": [0, 0.08], "nice": false}, "axis": {"orient": "top", "values": [0.02,0.04,0.06], "labels": false, "title": null}},
                  "y": {"field": "val", "type": "quantitative", "scale": {"domain": [0, 30], "nice": false}, "axis": {"orient": "right", "values": [5,10,15,20,25], "labels": false, "title": null}}}}
   ],
   "resolve": {"axis": {"x": "independent", "y": "independent"}}},
  {"width": 316, "height": 158,
   "data": {"name": "ptsD"}, "transform": [{"filter": "datum.p == 'b'"}],
   "layer": [
    {"mark": {"type": "circle", "size": 125, "opacity": 1, "color": "#213f98"},
     "encoding": {"x": {"field": "c", "type": "quantitative", "scale": {"domain": [0, 0.08], "nice": false}, "axis": {"orient": "bottom", "values": [0,0.02,0.04,0.06,0.08], "title": "DOC concentration (%)"}},
                  "y": {"field": "val", "type": "quantitative", "scale": {"domain": [0.3, 0.7], "nice": false, "zero": false}, "axis": {"orient": "left", "values": [0.3,0.4,0.5,0.6], "title": ["Bond", "curvature (nm)"], "titlePadding": 8}}}},
    {"mark": {"type": "point", "opacity": 0},
     "encoding": {"x": {"field": "c", "type": "quantitative", "scale": {"domain": [0, 0.08], "nice": false}, "axis": {"orient": "top", "values": [0.02,0.04,0.06], "labels": false, "title": null}},
                  "y": {"field": "val", "type": "quantitative", "scale": {"domain": [0.3, 0.7], "nice": false, "zero": false}, "axis": {"orient": "right", "values": [0.4,0.5,0.6], "labels": false, "title": null}}}}
   ],
   "resolve": {"axis": {"x": "independent", "y": "independent"}}}
 ]
}
]
}
]
}
